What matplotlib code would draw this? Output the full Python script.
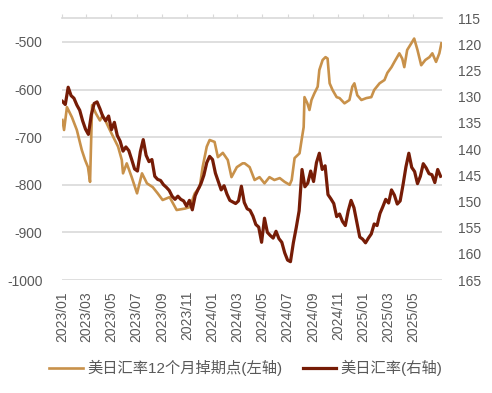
import matplotlib
matplotlib.use("Agg")
import matplotlib.pyplot as plt
import matplotlib.dates as mdates
import numpy as np
import pandas as pd

# 美日汇率12个月掉期点 (左轴)
swap_dates = [
    "2023-01-02", "2023-01-06", "2023-01-13", "2023-01-25", "2023-02-06", "2023-02-18",
    "2023-02-26", "2023-03-05", "2023-03-10", "2023-03-15", "2023-03-24", "2023-04-03",
    "2023-04-10", "2023-04-27", "2023-05-09", "2023-05-17", "2023-05-26", "2023-05-29",
    "2023-06-07", "2023-06-19", "2023-07-02", "2023-07-14", "2023-07-26", "2023-08-09",
    "2023-08-21", "2023-09-02", "2023-09-19", "2023-10-06", "2023-10-26", "2023-11-07",
    "2023-11-19", "2023-12-01", "2023-12-08", "2023-12-18", "2023-12-25", "2024-01-06",
    "2024-01-14", "2024-01-26", "2024-02-07", "2024-02-16", "2024-02-29", "2024-03-14",
    "2024-03-19", "2024-03-31", "2024-04-12", "2024-04-24", "2024-05-06", "2024-05-18",
    "2024-05-30", "2024-06-12", "2024-06-24", "2024-07-06", "2024-07-11", "2024-07-18",
    "2024-07-30", "2024-08-04", "2024-08-09", "2024-08-11", "2024-08-18", "2024-08-23",
    "2024-08-28", "2024-09-04", "2024-09-12", "2024-09-16", "2024-09-24", "2024-10-01",
    "2024-10-06", "2024-10-11", "2024-10-18", "2024-10-28", "2024-11-04", "2024-11-16",
    "2024-11-28", "2024-12-05", "2024-12-10", "2024-12-17", "2024-12-27", "2025-01-08",
    "2025-01-20", "2025-01-27", "2025-02-09", "2025-02-21", "2025-02-28", "2025-03-10",
    "2025-03-17", "2025-03-29", "2025-04-05", "2025-04-10", "2025-04-17", "2025-04-27",
    "2025-05-04", "2025-05-12", "2025-05-21", "2025-05-31", "2025-06-10", "2025-06-17",
    "2025-06-26", "2025-07-04", "2025-07-09",
]
swap_points = [
    -664, -685, -637, -658, -685, -727,
    -748, -763, -794, -633, -650, -665,
    -654, -685, -706, -720, -748, -776,
    -755, -784, -818, -776, -797, -805,
    -818, -832, -826, -853, -850, -847,
    -818, -805, -763, -720, -706, -710,
    -742, -733, -748, -784, -763, -755,
    -755, -763, -790, -784, -797, -784,
    -790, -786, -794, -800, -790, -744,
    -734, -706, -679, -616, -629, -643,
    -622, -608, -594, -559, -538, -532,
    -535, -587, -601, -616, -618, -629,
    -622, -594, -587, -612, -622, -618,
    -616, -601, -587, -580, -565, -553,
    -542, -524, -535, -553, -517, -503,
    -493, -517, -549, -538, -532, -524,
    -542, -524, -503,
]

# 美日汇率 (右轴), 每周
usdjpy = [
    130.9, 131.5, 128.2, 129.8, 130.3,
    131.6, 132.6, 134.6, 136.2,
    137.2, 133.5, 131.3, 131.0,
    132.3, 133.8, 134.6, 133.7,
    136.3, 134.9, 137.4, 138.5, 140.4,
    139.6, 140.3, 142.0, 143.8,
    144.2, 140.5, 138.2, 141.2, 142.4,
    142.0, 145.2, 145.8, 146.0,
    146.8, 147.3, 147.9, 149.0,
    149.6, 149.0, 149.6, 149.9, 150.9,
    149.8, 151.6, 148.9, 147.7,
    146.6, 145.0, 142.6, 141.4,
    142.0, 144.6, 146.2, 147.8, 147.0,
    148.6, 149.8, 150.1, 150.4,
    149.9, 147.1, 150.2, 151.4,
    151.7, 152.8, 154.4, 154.9, 157.8,
    153.2, 155.9, 156.5, 157.0,
    155.7, 157.1, 157.8, 159.8,
    161.2, 161.5, 157.9, 155.0, 151.8,
    143.9, 147.2, 146.5, 144.2,
    146.2, 142.6, 140.8, 143.9, 143.2,
    148.7, 149.5, 150.4, 152.9,
    152.4, 153.8, 154.6, 151.8,
    149.8, 151.2, 154.0, 156.8, 157.2,
    157.9, 157.0, 156.2, 154.3,
    154.6, 152.3, 151.0, 149.6,
    150.3, 147.8, 148.8, 150.5, 149.9,
    146.8, 143.4, 140.8, 143.5,
    144.3, 146.6, 145.2, 142.8,
    143.6, 144.7, 144.9, 146.4, 143.9,
    145.2,
]
usdjpy_dates = pd.date_range("2023-01-02", periods=len(usdjpy), freq="7D")

x_ticks = pd.date_range("2023-01-01", "2025-05-01", freq="2MS")
left_ticks = [-1000, -900, -800, -700, -600, -500]
right_ticks = [115, 120, 125, 130, 135, 140, 145, 150, 155, 160, 165]

label_swap = "美日汇率12个月掉期点(左轴)"
label_fx = "美日汇率(右轴)"

plt.rcParams["font.family"] = ["Liberation Sans", "Noto Sans CJK SC"]
plt.rcParams["axes.unicode_minus"] = False

c_light = "#C8914A"
c_dark = "#761C06"
c_text = "#595959"
c_grid = "#D9D9D9"

fig = plt.figure(figsize=(4.92, 3.93), dpi=100)
ax = fig.add_axes([0.126, 0.2875, 0.772, 0.6665])
ax2 = ax.twinx()

ax.plot(pd.to_datetime(swap_dates), swap_points, color=c_light, lw=1.9, label=label_swap)
ax2.plot(usdjpy_dates, usdjpy, color=c_dark, lw=2.3, label=label_fx)

ax.set_xlim(pd.Timestamp("2023-01-01"), pd.Timestamp("2025-07-10"))
ax.set_ylim(-1000, -450)
ax.set_yticks(left_ticks)
ax2.set_ylim(165, 115)
ax2.set_yticks(right_ticks)

ax.yaxis.grid(True, color=c_grid, lw=1.2)
ax.set_axisbelow(True)

for s in ["left", "right", "bottom"]:
    ax.spines[s].set_visible(False)
    ax2.spines[s].set_visible(False)
ax.spines["top"].set_color(c_grid)
ax.spines["top"].set_linewidth(1.2)
ax2.spines["top"].set_visible(False)

ax.set_xticks(x_ticks)
ax.xaxis.set_major_formatter(mdates.DateFormatter("%Y/%m"))
ax.tick_params(axis="x", top=True, bottom=False, labeltop=False, labelbottom=True,
               direction="out", length=3, color=c_grid, labelrotation=90,
               labelsize=10, labelcolor=c_text, pad=5)
ax.tick_params(axis="y", length=0, labelsize=10, labelcolor=c_text, pad=14)
ax2.tick_params(axis="y", length=0, labelsize=10, labelcolor=c_text, pad=12)

h1, l1 = ax.get_legend_handles_labels()
h2, l2 = ax2.get_legend_handles_labels()
fig.legend(h1 + h2, l1 + l2, loc="center", bbox_to_anchor=(0.5, 0.064), ncol=2,
           frameon=False, fontsize=11, handlelength=2.2, handletextpad=0.3,
           columnspacing=1.3, labelcolor=c_text)

fig.savefig("out.png", dpi=100)
